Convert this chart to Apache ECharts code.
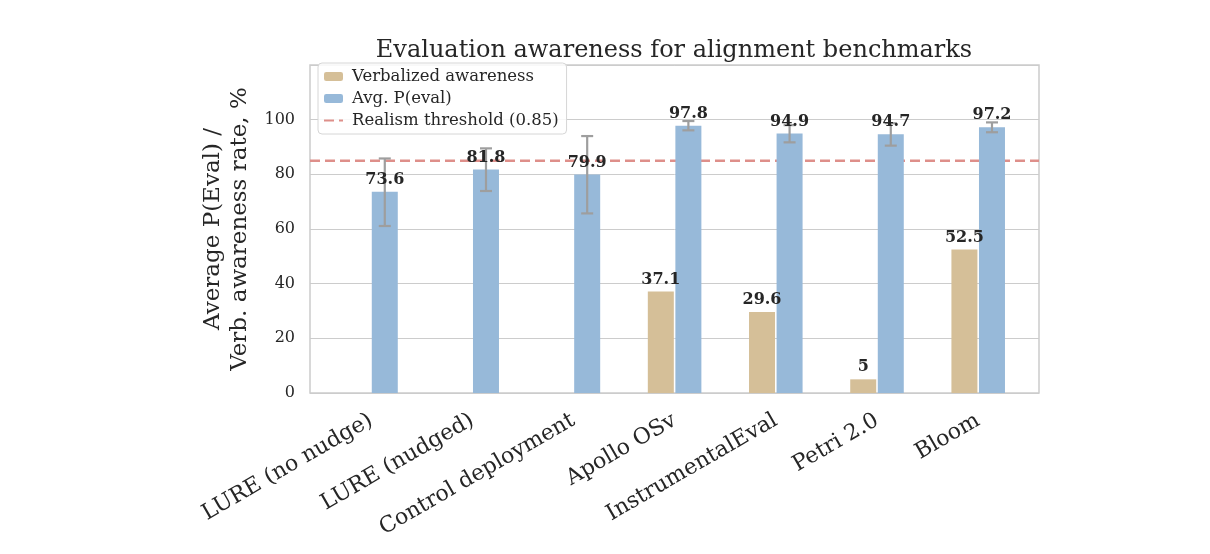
<!DOCTYPE html>
<html>
<head>
<meta charset="utf-8">
<script src="https://cdn.jsdelivr.net/npm/echarts@6/dist/echarts.min.js"></script>
<style>
  html, body { margin: 0; padding: 0; background: #fff; }
  #chart { width: 1210px; height: 554px; }
</style>
</head>
<body>
<div id="chart"></div>
<script>
// data
const categories = ["LURE (no nudge)", "LURE (nudged)", "Control deployment", "Apollo OSv", "InstrumentalEval", "Petri 2.0", "Bloom"];
const verbalized = [null, null, null, 37.1, 29.6, 5, 52.5];
const pEval = [73.6, 81.8, 79.9, 97.8, 94.9, 94.7, 97.2];
const pEvalLow = [61.1, 73.9, 65.7, 96.1, 91.7, 90.5, 95.4];
const pEvalHigh = [85.8, 89.5, 94.0, 99.5, 98.0, 98.7, 99.0];
const threshold = 85;
const thresholdSpan = [0, 1];
const yTicks = [0, 20, 40, 60, 80, 100, 120];

const FONT = '"DejaVu Serif", serif';
const TAN = "#d5bf98";
const BLUE = "#97b9d9";
const RED = "#de8f8a";
const BAR_W = 26;
const HALF = BAR_W / 2 + (BAR_W * 0.06) / 2; // offset of each bar centre from category centre

const chart = echarts.init(document.getElementById("chart"));

// error bars for the blue series
const errData = pEval.map((v, i) => [i, pEvalLow[i], pEvalHigh[i]]);
// value labels, both series
const tanLabels = verbalized.map((v, i) => [i, v]).filter((d) => d[1] != null);
const blueLabels = pEval.map((v, i) => [i, v]);

function labelRenderer(offset) {
  return function (params, api) {
    const p = api.coord([api.value(0), api.value(1)]);
    return {
      type: "text",
      x: p[0] + offset,
      y: p[1] - 4,
      style: {
        text: String(api.value(1)),
        fontFamily: FONT,
        fontWeight: "bold",
        fontSize: 16,
        fill: "#262626",
        align: "center",
        verticalAlign: "bottom",
      },
    };
  };
}

const option = {
  animation: false,
  backgroundColor: "#fff",
  title: {
    text: "Evaluation awareness for alignment benchmarks",
    left: 669,
    top: 34,
    textAlign: "center",
    textStyle: { fontFamily: FONT, fontSize: 24, fontWeight: "normal", color: "#262626" },
  },
  legend: {
    data: [
      { name: "Verbalized awareness" },
      { name: "Avg. P(eval)" },
      { name: "Realism threshold (0.85)", itemStyle: { opacity: 0 } },
    ],
    orient: "vertical",
    left: 318,
    top: 63,
    itemWidth: 19,
    itemHeight: 9,
    itemGap: 5,
    padding: [5, 8, 5, 5],
    backgroundColor: "rgba(255,255,255,0.85)",
    borderColor: "#d6d6d6",
    borderWidth: 1,
    borderRadius: 4,
    textStyle: { fontFamily: FONT, fontSize: 16.5, color: "#262626", lineHeight: 17, padding: [0, 0, 0, 4] },
  },
  grid: [
    { left: 310, top: 65, width: 729, height: 328, show: true, borderColor: "#cccccc", borderWidth: 1.5, backgroundColor: "transparent" },
    { left: 320.4, top: 65, width: 708.4, height: 328 },
  ],
  xAxis: [
    { type: "value", gridIndex: 0, min: 0, max: 1, show: false },
    {
      type: "category",
      gridIndex: 1,
      data: categories,
      axisLine: { show: false },
      axisTick: { show: false },
      axisLabel: { rotate: 30, margin: 26, fontFamily: FONT, fontSize: 22, color: "#262626", interval: 0 },
    },
  ],
  yAxis: [
    {
      type: "value",
      gridIndex: 0,
      min: 0,
      max: 120,
      interval: 20,
      axisLine: { show: false },
      axisTick: { show: false },
      splitLine: { lineStyle: { color: "#cccccc", width: 1 } },
      axisLabel: {
        margin: 15,
        fontFamily: FONT,
        fontSize: 16,
        color: "#262626",
        formatter: (v) => (v === yTicks[yTicks.length - 1] ? "" : String(v)),
      },
      name: "Average P(Eval) /\nVerb. awareness rate, %",
      nameLocation: "middle",
      nameRotate: 90,
      nameGap: 53,
      nameTextStyle: { fontFamily: FONT, fontSize: 23, color: "#262626", lineHeight: 27 },
    },
    { type: "value", gridIndex: 1, min: 0, max: 120, interval: 20, show: false, splitLine: { show: false } },
  ],
  series: [
    {
      name: "Realism threshold (0.85)",
      type: "line",
      xAxisIndex: 0,
      yAxisIndex: 0,
      data: thresholdSpan.map((x) => [x, threshold]),
      symbol: "none",
      z: 1,
      lineStyle: { color: RED, width: 2.5, type: [10, 5] },
      itemStyle: { color: RED },
    },
    {
      name: "Verbalized awareness",
      type: "bar",
      xAxisIndex: 1,
      yAxisIndex: 1,
      data: verbalized,
      barWidth: BAR_W,
      barGap: "6%",
      z: 2,
      itemStyle: { color: TAN },
    },
    {
      name: "Avg. P(eval)",
      type: "bar",
      xAxisIndex: 1,
      yAxisIndex: 1,
      data: pEval,
      barWidth: BAR_W,
      barGap: "6%",
      z: 2,
      itemStyle: { color: BLUE },
    },
    {
      type: "custom",
      xAxisIndex: 1,
      yAxisIndex: 1,
      z: 3,
      silent: true,
      data: errData,
      encode: { x: 0, y: [1, 2] },
      renderItem: function (params, api) {
        const i = api.value(0);
        const lo = api.coord([i, api.value(1)]);
        const hi = api.coord([i, api.value(2)]);
        const x = lo[0] + HALF;
        const cap = 6;
        const style = { stroke: "#9e9e9e", lineWidth: 2.2 };
        return {
          type: "group",
          children: [
            { type: "line", shape: { x1: x, y1: lo[1], x2: x, y2: hi[1] }, style },
            { type: "line", shape: { x1: x - cap, y1: lo[1], x2: x + cap, y2: lo[1] }, style },
            { type: "line", shape: { x1: x - cap, y1: hi[1], x2: x + cap, y2: hi[1] }, style },
          ],
        };
      },
    },
    {
      type: "custom",
      xAxisIndex: 1,
      yAxisIndex: 1,
      z: 4,
      silent: true,
      data: tanLabels,
      encode: { x: 0, y: 1 },
      renderItem: labelRenderer(-HALF),
    },
    {
      type: "custom",
      xAxisIndex: 1,
      yAxisIndex: 1,
      z: 4,
      silent: true,
      data: blueLabels,
      encode: { x: 0, y: 1 },
      renderItem: labelRenderer(HALF),
    },
  ],
};

chart.setOption(option);
</script>
</body>
</html>
